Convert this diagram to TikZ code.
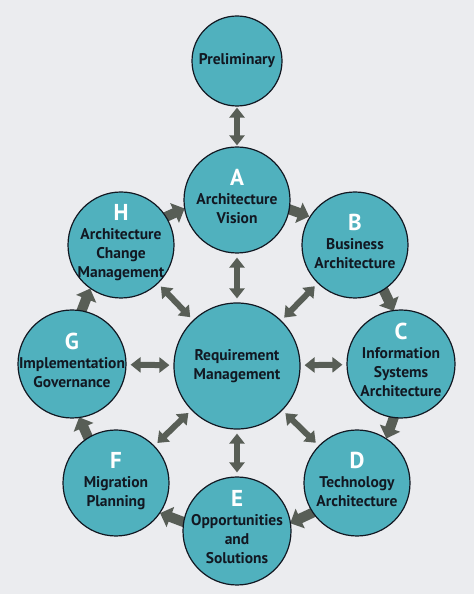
\documentclass[tikz,border=0pt]{standalone}
\usepackage{fontspec}
\setmainfont{PT Sans}
\usepackage{xcolor}
\usetikzlibrary{arrows.meta,backgrounds,calc}

\definecolor{bggray}{RGB}{235,236,239}
\definecolor{tealfill}{RGB}{80,177,190}
\definecolor{ink}{RGB}{18,24,34}
\definecolor{arrowgray}{RGB}{88,94,86}

\newcommand{\phaseletter}[1]{{\color{white}\fontsize{23}{19.5}\selectfont #1}}

\begin{document}
\begin{tikzpicture}[
    x=1pt, y=1pt,
    phase/.style={circle, draw=ink, line width=1.2pt, fill=tealfill, minimum size=106pt, inner sep=-20pt, align=center, text=ink, font=\fontsize{15.5}{19}\selectfont\bfseries},
    ring/.style={phase, text depth=8pt},
    dbl/.style={draw=arrowgray, line width=6pt, {Triangle[width=15pt,length=10pt]}-{Triangle[width=15pt,length=10pt]}, shorten <=4pt, shorten >=4pt},
    cyc/.style={draw=arrowgray, line width=10pt, -{Triangle[width=21pt,length=11pt]}}
]
    \useasboundingbox (0,0) rectangle (474,594);

    % Centre
    \node [phase, minimum size=126pt] (req) at (237,228) {Requirement\\Management};

    % Top
    \node [phase, minimum size=90pt] (prelim) at (237,533) {Preliminary};

    % Ring of phases
    \node [ring] (a) at (237,394) {\phaseletter{A}\\Architecture\\Vision};
    \node [ring] (b) at (355,349) {\phaseletter{B}\\Business\\Architecture};
    \node [ring, minimum size=108pt] (c) at (401,230) {\phaseletter{C}\\Information\\Systems\\Architecture};
    \node [ring] (d) at (357,111) {\phaseletter{D}\\Technology\\Architecture};
    \node [ring, minimum size=108pt] (e) at (237,63) {\phaseletter{E}\\Opportunities\\and\\Solutions};
    \node [ring] (f) at (116,111) {\phaseletter{F}\\Migration\\Planning};
    \node [ring, minimum size=108pt] (g) at (72,230) {\phaseletter{G}\\Implementation\\Governance};
    \node [ring] (h) at (121,349) {\phaseletter{H}\\Architecture\\Change\\Management};

    % Background and cycle arrows (tails tucked under the circles)
    \begin{scope}[on background layer]
        \fill [bggray] (0,0) rectangle (474,594);
        \foreach \s/\e in {76/64.2, 31.7/19.4, -13.3/-25.9, -58.3/-71.3, -104/-117.6, -150/-162, -194.7/-207.8, -240.2/-251.6}
            \path [cyc] ($(req)+(\s:166)$) -- ($(req)+(\e:166)$);
    \end{scope}

    % Links to requirement management
    \path [dbl, shorten <=1pt, shorten >=1pt] (prelim) -- (a);
    \foreach \n in {a, b, c, d, e, f, g, h}
        \path [dbl] (req) -- (\n);

\end{tikzpicture}
\end{document}
